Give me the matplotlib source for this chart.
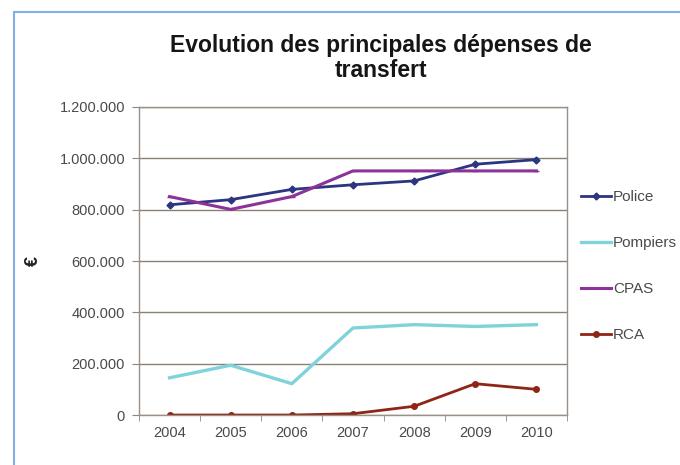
import matplotlib
matplotlib.use("Agg")
import matplotlib.pyplot as plt
from matplotlib.patches import Rectangle
from matplotlib.ticker import FuncFormatter, FixedLocator

plt.rcParams['font.family'] = ['Liberation Sans', 'DejaVu Sans']

# data
years = ["2004", "2005", "2006", "2007", "2008", "2009", "2010"]
police = [819000, 839000, 879000, 897000, 912000, 977000, 995000]
pompiers = [145000, 194000, 122000, 339000, 352000, 345000, 352000]
cpas = [851000, 801000, 851000, 951000, 951000, 951000, 951000]
rca = [0, 0, 0, 5000, 34000, 122000, 100000]

fig = plt.figure(figsize=(6.8, 4.65), dpi=100)
ax = fig.add_axes([0.2044, 0.1075, 0.6294, 0.6624])

x = list(range(len(years)))
ax.plot(x, police, color='#2b3580', lw=2, marker='D', ms=3.5, label='Police')
ax.plot(x, pompiers, color='#7fd3da', lw=2.4, label='Pompiers')
ax.plot(x, cpas, color='#8b3398', lw=2.2, marker='_', ms=5, label='CPAS')
ax.plot(x, rca, color='#8e2516', lw=2, marker='o', ms=4, label='RCA')

ax.set_xlim(-0.5, len(years) - 0.5)
ax.set_ylim(0, 1200000)
ax.set_yticks(range(0, 1200001, 200000))
ax.yaxis.set_major_formatter(FuncFormatter(lambda v, p: f"{int(v):,}".replace(",", ".")))
ax.set_xticks(x)
ax.set_xticklabels(years)
ax.xaxis.set_minor_locator(FixedLocator([i - 0.5 for i in range(len(years) + 1)]))
ax.tick_params(axis='x', which='major', length=0, pad=8, labelsize=10.5, colors='#4a4a4a')
ax.tick_params(axis='x', which='minor', length=4, color='#888888')
ax.tick_params(axis='y', length=5, color='#888888', labelsize=10.5, colors='#4a4a4a', pad=5)

ax.grid(axis='y', color='#8a8073', lw=1)
ax.set_axisbelow(True)
for s in ax.spines.values():
    s.set_color('#9a9088')
    s.set_linewidth(1)

ax.set_ylabel("€", fontsize=13, fontweight='bold', color='#222222', labelpad=13)

fig.text(0.560, 0.875, "Evolution des principales dépenses de\ntransfert",
         ha='center', va='center', fontsize=16.5, fontweight='bold',
         color='#151515', linespacing=1.12)

ax.legend(loc='upper left', bbox_to_anchor=(1.0, 0.775), frameon=False,
          fontsize=11, labelspacing=2.1, handlelength=2.0, handletextpad=0.1,
          labelcolor='#4a4a4a')

# light blue frame around the panel
fig.patches.append(Rectangle((14 / 680, -0.1), 1.2, 1 - 12 / 465 + 0.1,
                             transform=fig.transFigure, fill=False,
                             edgecolor='#7fb2e3', lw=1.5))

fig.savefig("out.png", dpi=100)
